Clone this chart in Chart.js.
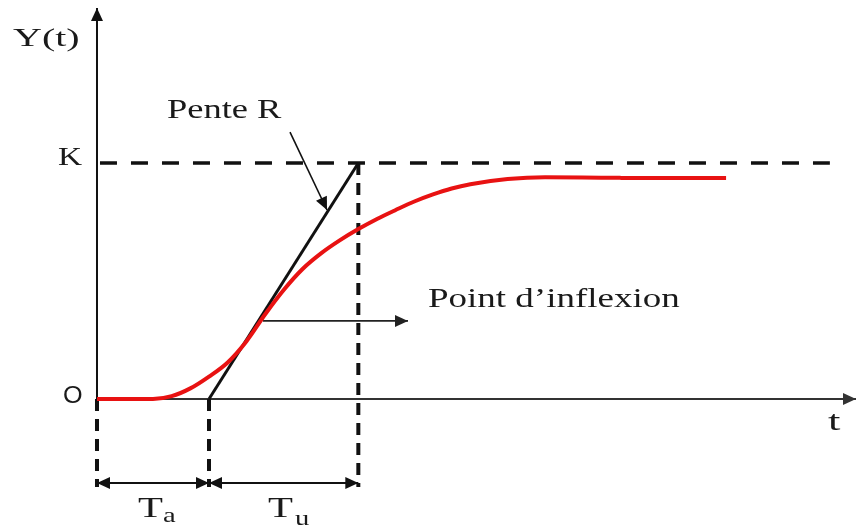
<!DOCTYPE html>
<html><head><meta charset="utf-8">
<script src="https://cdn.jsdelivr.net/npm/chart.js@4"></script>
<style>html,body{margin:0;padding:0;background:#fff}canvas{display:block}</style>
</head><body>
<canvas id="c" width="856" height="526"></canvas>
<script>
// ---- data (time in arbitrary units, response normalised so K = 1) ----
const timeValues     = [0, 1, 1.5, 2, 2.5, 3, 3.5, 4, 4.5, 5, 5.5, 6, 6.5, 7, 7.5, 8, 8.5, 9, 9.5, 10, 11, 12, 13, 14, 15, 16, 16.85];
const responseValues = [0, 0, 0, 0.012, 0.045, 0.095, 0.155, 0.244, 0.358, 0.462, 0.55, 0.617, 0.672, 0.72, 0.763, 0.801, 0.837, 0.867, 0.892, 0.91, 0.932, 0.94, 0.939, 0.937, 0.936, 0.936, 0.936];
const K = 1;
const Ta = 3;
const Tu = 4;
const tEnd = 20.33;        // end of time axis
const yAxisTop = 1.657;    // top of response axis
const kLineT = [0.08, 19.63];
const dimY = -0.356;       // level of the Ta / Tu dimension arrows
const dashBottom = -0.373; // bottom of the vertical dashed guides
const penteArrowT = [5.17, 6.161];
const penteArrowY = [1.131, 0.801];
const inflexArrowT = [4.446, 8.33];
const inflexArrowY = [0.331, 0.331];

// ---- text labels ----
const labels = [
  {text: 'Y(t)', t: -2.25, y: 1.496, font: '25px "Liberation Serif"', sx: 1.6},
  {text: 'Pente R', t: 1.875, y: 1.191, font: '27px "Liberation Serif"', sx: 1.35},
  {text: 'K', t: -1.045, y: 0.992, font: '26px "Liberation Serif"', sx: 1.28},
  {text: 'O', t: -0.911, y: -0.017, font: '24px "Liberation Sans"', sx: 1.05},
  {text: 'Point d\u2019inflexion', t: 8.866, y: 0.39, font: '27px "Liberation Serif"', sx: 1.37},
  {text: 't', t: 19.58, y: -0.131, font: '28px "Liberation Serif"', sx: 1.6},
  {text: 'T', t: 1.098, y: -0.5, font: '30px "Liberation Serif"', sx: 1.36},
  {text: 'a', t: 1.768, y: -0.521, font: '22px "Liberation Serif"', sx: 1.3},
  {text: 'T', t: 4.58, y: -0.5, font: '30px "Liberation Serif"', sx: 1.36},
  {text: 'u', t: 5.304, y: -0.534, font: '22px "Liberation Serif"', sx: 1.3}
];

const pts = (xs, ys) => xs.map((x, i) => ({x, y: ys[i]}));
const line = (data, color, width, dash, arrows) => ({
  data, borderColor: color, borderWidth: width, borderDash: dash || [],
  pointRadius: 0, showLine: true, fill: false, tension: 0, clip: false,
  borderCapStyle: 'butt', arrows: arrows || []
});

const curve = Object.assign(line(pts(timeValues, responseValues), '#e81212', 4), {cubicInterpolationMode: 'monotone'});

const datasets = [
  curve,
  line(pts([Ta, Ta + Tu], [0, K]), '#111', 3),
  line(pts(kLineT, [K, K]), '#111', 3.5, [17, 14]),
  line(pts([0, 0], [0, dashBottom]), '#111', 4, [12, 8]),
  line(pts([Ta, Ta], [0, dashBottom]), '#111', 4, [12, 8]),
  line(pts([Ta + Tu, Ta + Tu], [K, dashBottom]), '#111', 4, [12, 8]),
  line(pts([0, Ta], [dimY, dimY]), '#111', 2, [], ['start', 'end']),
  line(pts([Ta, Ta + Tu], [dimY, dimY]), '#111', 2, [], ['start', 'end']),
  line(pts(penteArrowT, penteArrowY), '#111', 1.6, [], ['end']),
  line(pts(inflexArrowT, inflexArrowY), '#222', 1.6, [], ['end']),
  line(pts([0, 0], [0, yAxisTop]), '#111', 2, [], ['end']),
  line(pts([0, tEnd], [0, 0]), '#333', 2, [], ['end'])
];

const decor = {
  id: 'decor',
  afterDatasetsDraw(chart) {
    const ctx = chart.ctx, xs = chart.scales.x, ys = chart.scales.y;
    ctx.save();
    chart.data.datasets.forEach(ds => {
      (ds.arrows || []).forEach(end => {
        const d = ds.data;
        const a = end === 'end' ? d[d.length - 1] : d[0];
        const b = end === 'end' ? d[d.length - 2] : d[1];
        const ax = xs.getPixelForValue(a.x), ay = ys.getPixelForValue(a.y);
        const bx = xs.getPixelForValue(b.x), by = ys.getPixelForValue(b.y);
        const ang = Math.atan2(ay - by, ax - bx);
        const L = 13, W = 6;
        ctx.fillStyle = ds.borderColor;
        ctx.beginPath();
        ctx.moveTo(ax, ay);
        ctx.lineTo(ax - L * Math.cos(ang) + W * Math.sin(ang), ay - L * Math.sin(ang) - W * Math.cos(ang));
        ctx.lineTo(ax - L * Math.cos(ang) - W * Math.sin(ang), ay - L * Math.sin(ang) + W * Math.cos(ang));
        ctx.closePath();
        ctx.fill();
      });
    });
    ctx.fillStyle = '#1a1a1a';
    ctx.textBaseline = 'alphabetic';
    ctx.textAlign = 'left';
    labels.forEach(l => {
      ctx.save();
      ctx.font = l.font;
      ctx.translate(xs.getPixelForValue(l.t), ys.getPixelForValue(l.y));
      ctx.scale(l.sx, 1);
      ctx.fillText(l.text, 0, 0);
      ctx.restore();
    });
    ctx.restore();
  }
};

new Chart(document.getElementById('c'), {
  type: 'scatter',
  data: {datasets},
  options: {
    responsive: false,
    animation: false,
    layout: {padding: 0},
    plugins: {legend: {display: false}, tooltip: {enabled: false}},
    scales: {
      x: {type: 'linear', display: false, min: -2.598, max: 20.33},
      y: {type: 'linear', display: false, min: -0.5381, max: 1.6907}
    }
  },
  plugins: [decor]
});
</script>
</body></html>
